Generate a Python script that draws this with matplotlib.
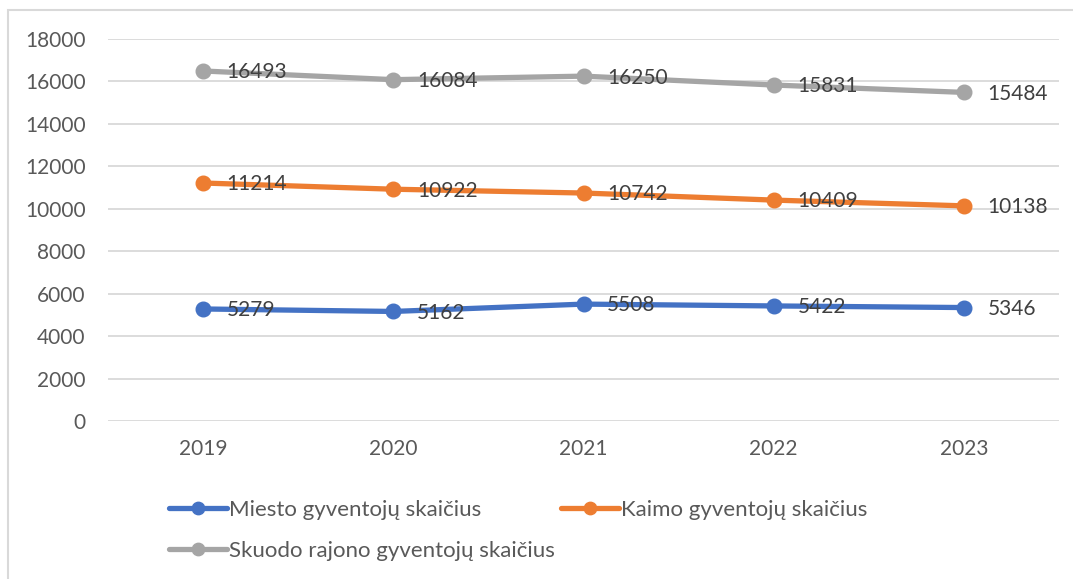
import matplotlib.pyplot as plt
from matplotlib.patches import Rectangle

BLUE = "#4472c4"
ORANGE = "#ed7d31"
GRAY = "#a5a5a5"
TICK_INK = "#595959"
LABEL_INK = "#404040"
GRID = "#d9d9d9"

years = ["2019", "2020", "2021", "2022", "2023"]
miesto = [5279, 5162, 5508, 5422, 5346]
kaimo = [11214, 10922, 10742, 10409, 10138]
skuodo = [16493, 16084, 16250, 15831, 15484]

series = [
    ("Miesto gyventojų skaičius", miesto, BLUE),
    ("Kaimo gyventojų skaičius", kaimo, ORANGE),
    ("Skuodo rajono gyventojų skaičius", skuodo, GRAY),
]

plt.rcParams["font.family"] = ["Lato", "DejaVu Sans"]

W, H = 1073, 579
fig = plt.figure(figsize=(W / 100, H / 100), dpi=100)
fig.patch.set_facecolor("white")
ax = fig.add_axes([108 / W, 1 - 421 / H, (1059 - 108) / W, (421 - 39) / H])

# outer chart border (runs off the right/bottom edge like the screenshot)
fig.patches.append(Rectangle((8 / W, -0.05), 1.1, 1 - 10 / H + 0.05, transform=fig.transFigure,
                             fill=False, edgecolor="#d9d9d9", linewidth=1.5))

x = list(range(len(years)))
handles = {}
for name, vals, color in series:
    h, = ax.plot(x, vals, color=color, linewidth=3.8, marker="o", markersize=10.5,
                 solid_capstyle="round", label=name, zorder=3)
    handles[name] = h
    for xi, v in zip(x, vals):
        ax.annotate(str(v), xy=(xi, v), xytext=(17, -1), textcoords="offset points",
                    ha="left", va="center", fontsize=15, color=LABEL_INK, zorder=4)

ax.set_xlim(-0.5, 4.5)
ax.set_ylim(0, 18000)
ax.set_yticks(range(0, 18001, 2000))
ax.set_xticks(x)
ax.set_xticklabels(years)
ax.grid(axis="y", color=GRID, linewidth=1.3, zorder=0)
for s in ax.spines.values():
    s.set_visible(False)
ax.tick_params(axis="both", length=0, labelsize=15, colors=TICK_INK)
ax.tick_params(axis="y", pad=16)
ax.tick_params(axis="x", pad=13)

# legend fills column-wise, so order gives rows: Miesto | Kaimo, then Skuodo
order = [series[0][0], series[2][0], series[1][0]]
leg = fig.legend(handles=[handles[n] for n in order], ncol=2, loc="upper left",
                 bbox_to_anchor=(160 / W, 1 - 491 / H), frameon=False,
                 fontsize=16, labelcolor=TICK_INK, handlelength=2.6, handletextpad=0.1,
                 columnspacing=0.3, labelspacing=0.95, borderaxespad=0, markerscale=0.85)

fig.savefig("out.png", dpi=100, facecolor="white")
